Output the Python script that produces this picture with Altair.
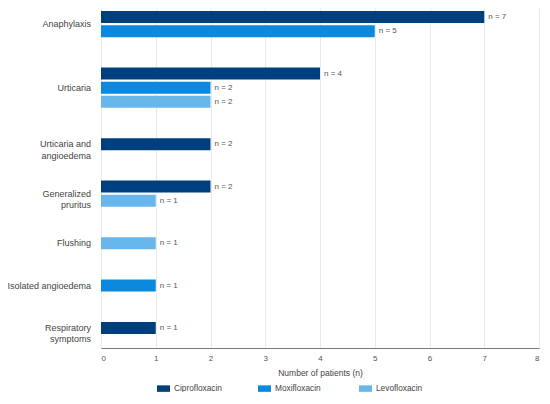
import altair as alt
import pandas as pd

categories = ["Anaphylaxis", "Urticaria", "Urticaria and angioedema",
              "Generalized pruritus", "Flushing", "Isolated angioedema",
              "Respiratory symptoms"]
category_labels = ["Anaphylaxis", "Urticaria", "Urticaria and\nangioedema",
                   "Generalized\npruritus", "Flushing", "Isolated angioedema",
                   "Respiratory\nsymptoms"]
drugs = ["Ciprofloxacin", "Moxifloxacin", "Levofloxacin"]
colors = ["#003f7d", "#0a89df", "#68b7ec"]
x_ticks = [0, 1, 2, 3, 4, 5, 6, 7, 8]

ciprofloxacin = [7, 4, 2, 2, None, None, 1]
moxifloxacin = [5, 2, None, None, None, 1, None]
levofloxacin = [None, 2, None, 1, 1, None, None]

series = {"Ciprofloxacin": ciprofloxacin,
          "Moxifloxacin": moxifloxacin,
          "Levofloxacin": levofloxacin}

# one row per bar that exists; groups separated by two empty rows
records = []
bar_idx = 0
for g, cat in enumerate(categories):
    for d in drugs:
        v = series[d][g]
        if v is None:
            continue
        records.append({"category": cat, "label": category_labels[g],
                        "drug": d, "n": v, "row": bar_idx + 2 * g})
        bar_idx += 1
df = pd.DataFrame(records)

FONT = "Liberation Sans"
W, H = 438, 340

yscale = alt.Scale(domain=[-0.64, 23.42], reverse=True, nice=False,
                   zero=False, padding=0)
xscale = alt.Scale(domain=[0, 8], nice=False)

x_axis = alt.Axis(title="Number of patients (n)", values=x_ticks,
                  format="d", grid=True, gridColor="#e9e9e9",
                  domainColor="#7a7a7a", domainWidth=1.2, ticks=False,
                  labelOverlap=False, labelFontSize=8, labelColor="#555555",
                  labelPadding=6, labelFont=FONT, titleFont=FONT,
                  titleFontSize=8.5, titleFontWeight="normal",
                  titleColor="#444444", titlePadding=6)

X = alt.X("n:Q", scale=xscale, axis=x_axis)
Y = alt.Y("row:Q", scale=yscale, axis=None)

base = alt.Chart(df)

bars = base.mark_bar(size=12, orient="horizontal").encode(
    x=X,
    y=Y,
    color=alt.Color("drug:N",
                    scale=alt.Scale(domain=drugs, range=colors),
                    legend=alt.Legend(title=None, orient="none", legendX=56,
                                      legendY=374, direction="horizontal",
                                      columns=3, gridAlign="all",
                                      columnPadding=36,
                                      symbolType="M-1,-0.5H1V0.5H-1Z",
                                      symbolSize=169, symbolStrokeWidth=0,
                                      labelFont=FONT, labelFontSize=8.3,
                                      labelColor="#444444", labelOffset=4)),
)

nlabels = base.transform_calculate(
    txt="'n = ' + datum.n"
).mark_text(align="left", baseline="middle", dx=4, fontSize=8,
            font=FONT, color="#555555").encode(
    x=X,
    y=Y,
    text="txt:N",
)

catlabels = base.mark_text(align="right", baseline="middle", fontSize=9,
                           font=FONT, color="#444444", lineBreak="\n",
                           lineHeight=11.5).encode(
    x=alt.value(-10),
    y=alt.Y("mean(row):Q", scale=yscale, axis=None),
    text=alt.Text("label:N"),
    detail="category:N",
)

chart = alt.layer(bars, nlabels, catlabels).properties(
    width=W, height=H,
    autosize=alt.AutoSizeParams(type="none"),
    padding={"left": 93, "top": 0, "right": 3, "bottom": 44},
).configure_view(stroke=None)

chart.save("out.html", embed_options={"renderer": "svg", "actions": False})
